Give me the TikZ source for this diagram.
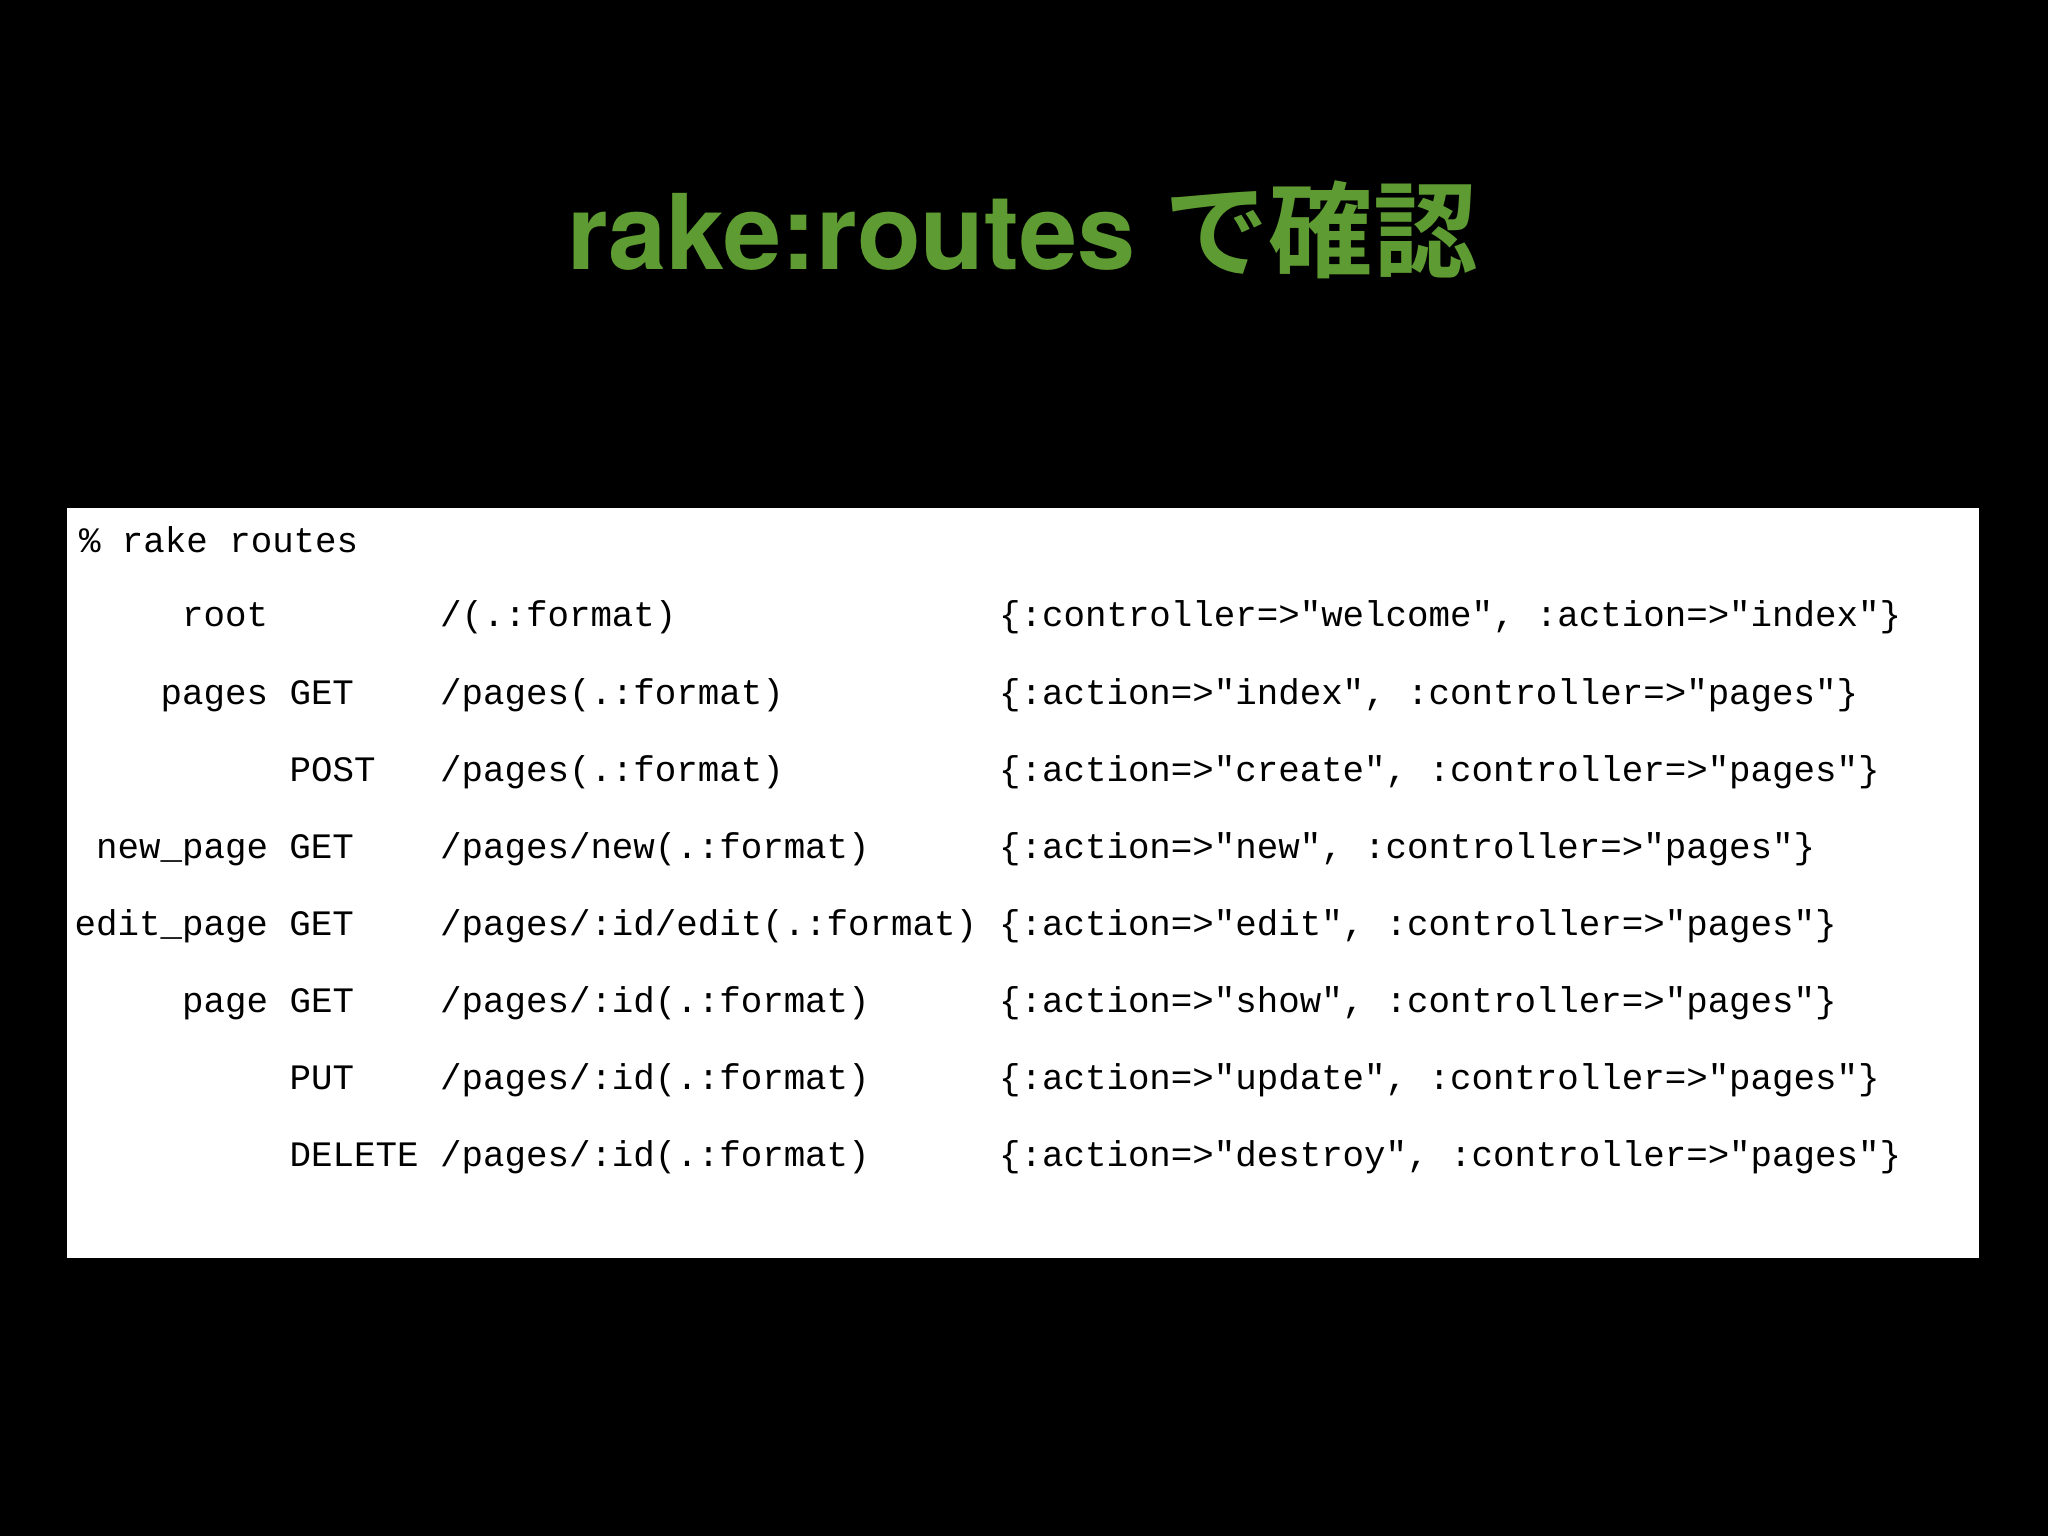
\documentclass[tikz,border=0pt]{standalone}
\usepackage{fontspec}
\newfontfamily\mono{Liberation Mono}
\newfontfamily\latin{TeX Gyre Heros}
\newfontfamily\cjk{Noto Sans CJK JP}[BoldFont={* Bold}]
\definecolor{titlegreen}{HTML}{5E9B32}
\begin{document}
\begin{tikzpicture}[x=1pt,y=-1pt,
  tt/.style={anchor=base west,inner sep=0pt,font=\mono\fontsize{27.4}{30}\selectfont,text=black}]
\fill[black] (0,0) rectangle (1568,1176);
\useasboundingbox (0,0) rectangle (1568,1176);
\node[font=\fontsize{80}{86}\selectfont\bfseries,text=titlegreen,anchor=base,inner sep=0pt] (title) at (783,206) {\latin rake:routes {\cjk\bfseries で確認}};
\fill[white] (51,389) rectangle (1515,963);
\def\cw{16.46}
\def\xo{57}
\newcommand\seg[4]{\node[tt] (#1) at ({\xo+#2*\cw},#3) {#4};}
\seg{h}{0.2}{423}{\% rake routes}
\seg{a1}{5}{480}{root}
\seg{a2}{17}{480}{/(.:format)}
\seg{a3}{43}{480}{\{:controller=>"welcome", :action=>"index"\}}
\seg{b1}{4}{539}{pages GET}
\seg{b2}{17}{539}{/pages(.:format)}
\seg{b3}{43}{539}{\{:action=>"index", :controller=>"pages"\}}
\seg{c1}{10}{598}{POST}
\seg{c2}{17}{598}{/pages(.:format)}
\seg{c3}{43}{598}{\{:action=>"create", :controller=>"pages"\}}
\seg{d1}{1}{657}{new\_page GET}
\seg{d2}{17}{657}{/pages/new(.:format)}
\seg{d3}{43}{657}{\{:action=>"new", :controller=>"pages"\}}
\seg{e1}{0}{716}{edit\_page GET}
\seg{e2}{17}{716}{/pages/:id/edit(.:format)}
\seg{e3}{43}{716}{\{:action=>"edit", :controller=>"pages"\}}
\seg{f1}{5}{775}{page GET}
\seg{f2}{17}{775}{/pages/:id(.:format)}
\seg{f3}{43}{775}{\{:action=>"show", :controller=>"pages"\}}
\seg{g1}{10}{834}{PUT}
\seg{g2}{17}{834}{/pages/:id(.:format)}
\seg{g3}{43}{834}{\{:action=>"update", :controller=>"pages"\}}
\seg{k1}{10}{893}{DELETE}
\seg{k2}{17}{893}{/pages/:id(.:format)}
\seg{k3}{43}{893}{\{:action=>"destroy", :controller=>"pages"\}}
\end{tikzpicture}
\end{document}
